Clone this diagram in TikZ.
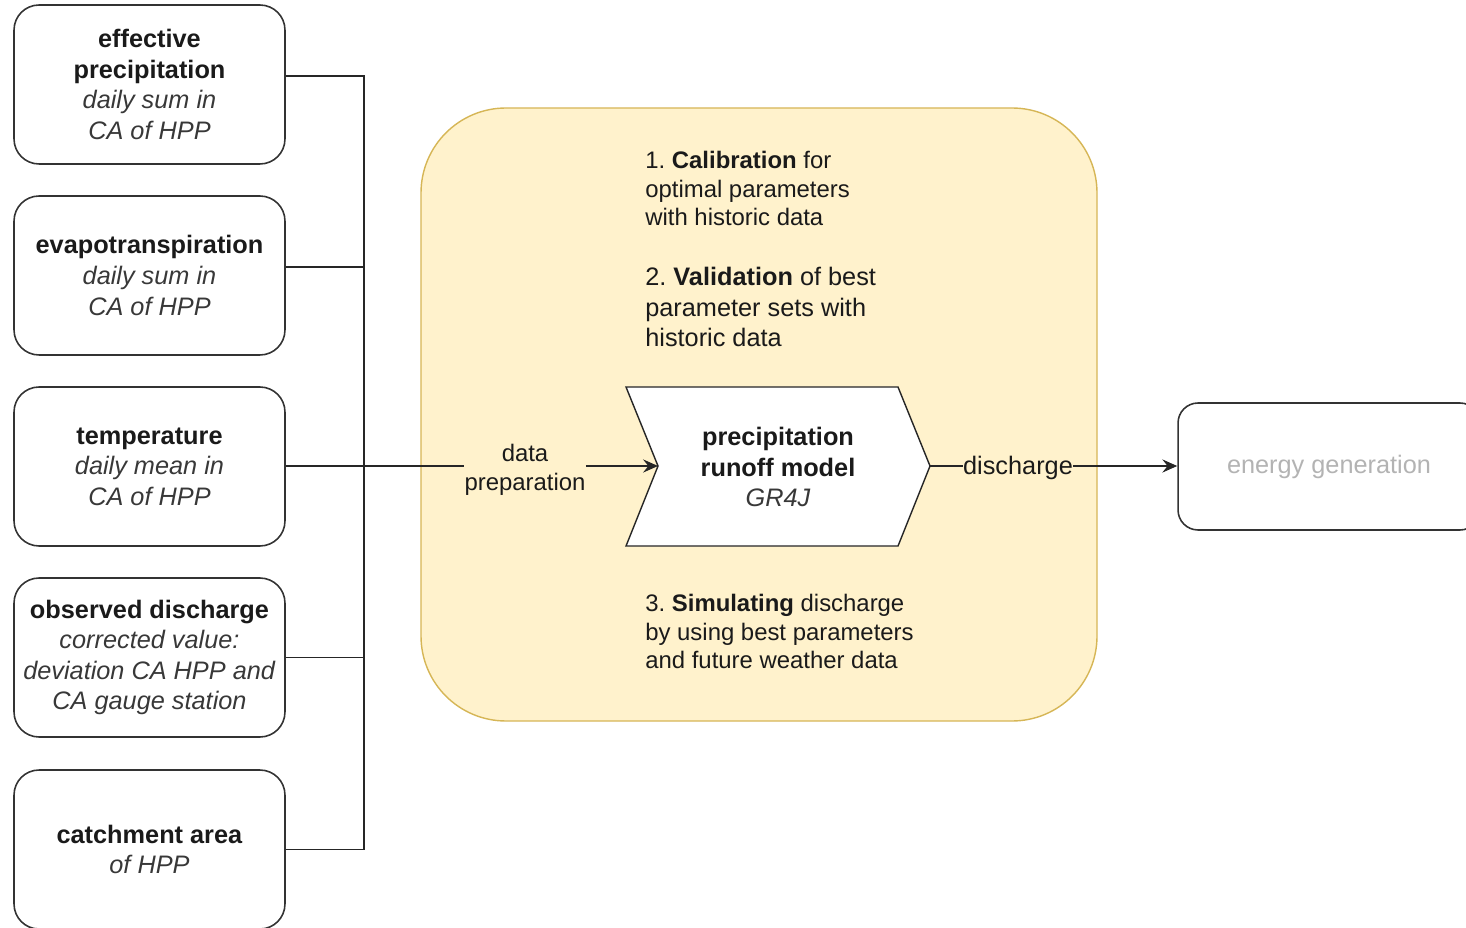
\documentclass[tikz,border=0pt]{standalone}
\usepackage{fontspec}
\setmainfont{Liberation Sans}
\usetikzlibrary{arrows.meta}
\definecolor{panelfill}{HTML}{FFF2CC}
\definecolor{paneldraw}{HTML}{D6B656}
\definecolor{ink}{HTML}{1A1A1A}
\definecolor{soft}{HTML}{B3B3B3}
\newcommand\fbig{\fontsize{14.4}{17.4}\selectfont}
\newcommand\fsmall{\fontsize{13.6}{16.2}\selectfont}
\newcommand\subline[1]{\textcolor{black!78}{\textit{#1}}}
\frenchspacing
\begin{document}
\begin{tikzpicture}[x=0.02cm,y=-0.02cm,
    input/.style={draw=black!80,line width=0.9pt,rounded corners=0.5cm,minimum width=5.42cm,minimum height=3.18cm,align=center,font=\fbig,text=ink,inner sep=2pt},
    steptext/.style={font=\fsmall,align=left,anchor=west,text=ink,inner sep=0pt},
    link/.style={draw=black!85,line width=0.8pt},
    arr/.style={link,-{Stealth[length=8.5pt,width=7.5pt,inset=3pt]}}]
    \useasboundingbox (0,0) rectangle (1466,928);
    % input data
    \node[input] (prec) at (149.5,84.5) {\textbf{effective}\\\textbf{precipitation}\\\subline{daily sum in}\\\subline{CA of HPP}};
    \node[input] (evap) at (149.5,275.5) {\textbf{evapotranspiration}\\\subline{daily sum in}\\\subline{CA of HPP}};
    \node[input] (temp) at (149.5,466.5) {\textbf{temperature}\\\subline{daily mean in}\\\subline{CA of HPP}};
    \node[input] (obs) at (149.5,657.5) {\textbf{observed discharge}\\\subline{corrected value:}\\\subline{deviation CA HPP and}\\\subline{CA gauge station}};
    \node[input] (catch) at (149.5,849.5) {\textbf{catchment area}\\\subline{of HPP}};
    % model panel
    \draw[fill=panelfill,draw=paneldraw,line width=0.8pt,rounded corners=1.7cm] (421,108) rectangle (1097,721);
    \node[steptext] (calib) at (645,188.7) {1. \textbf{Calibration} for\\optimal parameters\\with historic data};
    \node[steptext,font=\fbig] (valid) at (645,307) {2. \textbf{Validation} of best\\parameter sets with\\historic data};
    \node[steptext] (simul) at (645,631.7) {3. \textbf{Simulating} discharge\\by using best parameters\\and future weather data};
    \draw[fill=white,draw=black!85,line width=0.8pt] (626,387) -- (898,387) -- (930,466) -- (898,546) -- (626,546) -- (658,466) -- cycle;
    \coordinate (gin) at (658,466);
    \coordinate (gout) at (930,466);
    \node[font=\fbig,align=center,text=ink] (model) at (778,467) {\textbf{precipitation}\\\textbf{runoff model}\\\subline{GR4J}};
    \node[font=\fsmall,align=center,text=ink,inner sep=0pt] (prep) at (525,470) {data\\preparation};
    \node[font=\fbig,text=ink,inner sep=0pt] (disch) at (1018,468) {discharge};
    \node[draw=black!80,line width=0.9pt,rounded corners=0.4cm,minimum width=6.04cm,minimum height=2.54cm,font=\fbig,text=soft] (energy) at (1329,466.5) {energy generation};
    % connectors
    \coordinate (bus) at (364,466);
    \draw[link] ([yshift=0.17cm]prec.east) -| (bus);
    \draw[link] ([yshift=0.17cm]evap.east) -| (bus);
    \draw[link] (obs.east) -| (bus);
    \draw[link] (catch.east) -| (bus);
    \draw[link] (temp.east |- bus) -- (bus -| prep.west);
    \draw[arr] (prep.east |- gin) -- (gin);
    \draw[link] (gout) -- (gout -| disch.west);
    \draw[arr] (gout -| disch.east) -- (gout -| energy.west);
\end{tikzpicture}
\end{document}
